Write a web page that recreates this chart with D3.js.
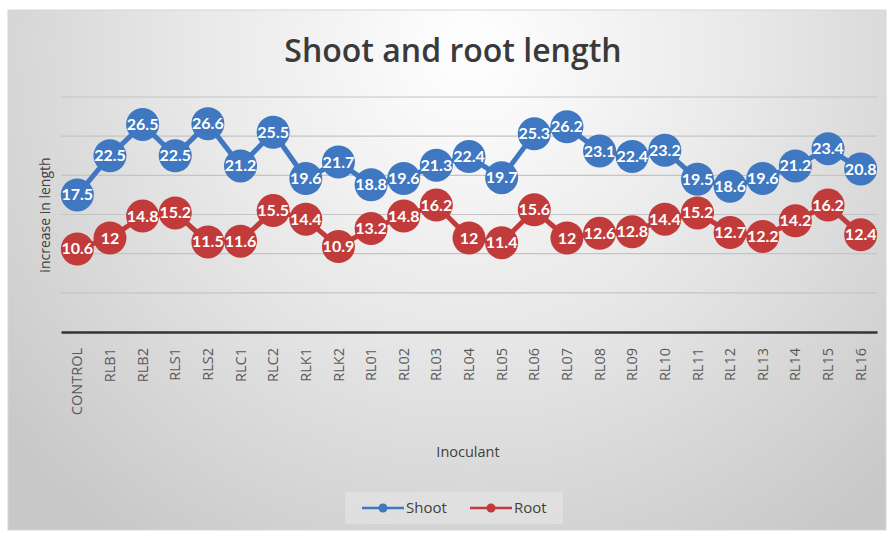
<!DOCTYPE html>
<html>
<head>
<meta charset="utf-8">
<script src="https://cdn.jsdelivr.net/npm/d3@7"></script>
<style>
  body { margin: 0; background: #fff; }
  svg { display: block; }
</style>
</head>
<body>
<svg width="889" height="535"></svg>
<script>
// データ
const categories = ["CONTROL", "RLB1", "RLB2", "RLS1", "RLS2", "RLC1", "RLC2", "RLK1", "RLK2",
  "RL01", "RL02", "RL03", "RL04", "RL05", "RL06", "RL07", "RL08", "RL09", "RL10",
  "RL11", "RL12", "RL13", "RL14", "RL15", "RL16"];
const shoot = [17.5, 22.5, 26.5, 22.5, 26.6, 21.2, 25.5, 19.6, 21.7, 18.8, 19.6, 21.3, 22.4,
  19.7, 25.3, 26.2, 23.1, 22.4, 23.2, 19.5, 18.6, 19.6, 21.2, 23.4, 20.8];
const root = [10.6, 12, 14.8, 15.2, 11.5, 11.6, 15.5, 14.4, 10.9, 13.2, 14.8, 16.2, 12,
  11.4, 15.6, 12, 12.6, 12.8, 14.4, 15.2, 12.7, 12.2, 14.2, 16.2, 12.4];
const yTicks = [0, 5, 10, 15, 20, 25, 30];

const seriesList = [
  { name: "Shoot", values: shoot, color: "#3f78c1" },
  { name: "Root", values: root, color: "#c23b3b" }
];

const svg = d3.select("svg");
const margin = { left: 61, right: 12, top: 97, bottom: 203 };
const W = 889, H = 535;
const font = "'Open Sans', sans-serif";

// 背景グラデーション
const defs = svg.append("defs");
const grad = defs.append("radialGradient")
  .attr("id", "bg")
  .attr("gradientUnits", "userSpaceOnUse")
  .attr("cx", 470).attr("cy", 50).attr("r", 600);
grad.append("stop").attr("offset", "0%").attr("stop-color", "#ffffff");
grad.append("stop").attr("offset", "45%").attr("stop-color", "#e9e9e9");
grad.append("stop").attr("offset", "100%").attr("stop-color", "#c8c8c8");

svg.append("rect")
  .attr("x", 8).attr("y", 10)
  .attr("width", 878).attr("height", 520)
  .attr("fill", "url(#bg)")
  .attr("stroke", "#d6d6d6");

const x = d3.scaleBand()
  .domain(categories)
  .range([margin.left, W - margin.right]);

const y = d3.scaleLinear()
  .domain([0, 30])
  .range([332, margin.top]);

// グリッド線
svg.append("g")
  .selectAll("line")
  .data(yTicks.filter(d => d > 0))
  .enter().append("line")
  .attr("x1", margin.left)
  .attr("x2", W - margin.right)
  .attr("y1", d => y(d))
  .attr("y2", d => y(d))
  .attr("stroke", "#c4c4c4")
  .attr("stroke-width", 1.2);

// X軸
const xAxis = svg.append("g")
  .attr("transform", `translate(0,${y(0)})`)
  .call(d3.axisBottom(x).tickSize(0).tickPadding(0));
xAxis.select(".domain")
  .attr("stroke", "#333")
  .attr("stroke-width", 2.5);
xAxis.selectAll("text")
  .attr("transform", "rotate(-90)")
  .attr("text-anchor", "end")
  .attr("x", -16)
  .attr("y", 0)
  .attr("dy", "0.35em")
  .style("font-family", font)
  .style("font-size", "14.5px")
  .attr("fill", "#595959");

// 軸タイトル
svg.append("text")
  .attr("transform", "translate(50,215) rotate(-90)")
  .attr("text-anchor", "middle")
  .style("font-family", font)
  .style("font-size", "14px")
  .attr("fill", "#404040")
  .text("increase in length");

svg.append("text")
  .attr("x", 468).attr("y", 457)
  .attr("text-anchor", "middle")
  .style("font-family", font)
  .style("font-size", "14.5px")
  .attr("fill", "#404040")
  .text("Inoculant");

// タイトル
svg.append("text")
  .attr("x", 453).attr("y", 62)
  .attr("text-anchor", "middle")
  .style("font-family", font)
  .style("font-weight", "600")
  .style("font-size", "32px")
  .attr("fill", "#3a3a3a")
  .text("Shoot and root length");

// 折れ線
const line = d3.line()
  .x((d, i) => x(categories[i]) + x.bandwidth() / 2)
  .y(d => y(d));

const series = svg.selectAll(".series")
  .data(seriesList)
  .enter().append("g")
  .attr("class", "series");

series.append("path")
  .attr("d", d => line(d.values))
  .attr("fill", "none")
  .attr("stroke", d => d.color)
  .attr("stroke-width", 5);

series.each(function (s) {
  const g = d3.select(this);
  g.selectAll("circle")
    .data(s.values)
    .enter().append("circle")
    .attr("cx", (d, i) => x(categories[i]) + x.bandwidth() / 2)
    .attr("cy", d => y(d))
    .attr("r", 16.5)
    .attr("fill", s.color);
  g.selectAll("text")
    .data(s.values)
    .enter().append("text")
    .attr("x", (d, i) => x(categories[i]) + x.bandwidth() / 2)
    .attr("y", d => y(d) + 5.5)
    .attr("text-anchor", "middle")
    .style("font-family", "Lato, sans-serif")
    .style("font-weight", "700")
    .style("font-size", "16px")
    .attr("fill", "#fff")
    .text(d => d);
});

// 凡例
const legend = svg.append("g").attr("transform", "translate(345,492)");
legend.append("rect")
  .attr("width", 218).attr("height", 32)
  .attr("fill", "#e6e6e6")
  .attr("opacity", 0.6);
const item = legend.selectAll(".item")
  .data(seriesList)
  .enter().append("g")
  .attr("transform", (d, i) => `translate(${17 + i * 108},16)`);
item.append("line")
  .attr("x1", 0).attr("x2", 42)
  .attr("stroke", d => d.color)
  .attr("stroke-width", 2.5);
item.append("circle")
  .attr("cx", 21).attr("r", 4.5)
  .attr("fill", d => d.color);
item.append("text")
  .attr("x", 44).attr("dy", "0.35em")
  .style("font-family", font)
  .style("font-size", "15px")
  .attr("fill", "#404040")
  .text(d => d.name);
</script>
</body>
</html>
